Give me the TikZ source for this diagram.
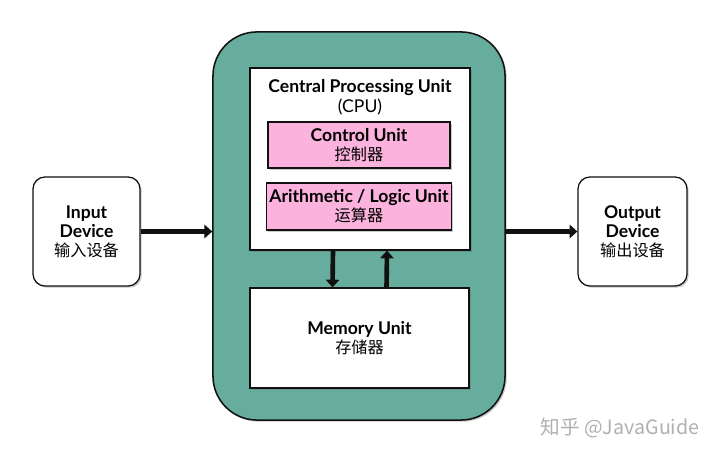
\documentclass[tikz,border=0pt]{standalone}
\usepackage{fontspec}
\setmainfont{Lato}
\newfontfamily\cjk{Noto Sans CJK SC}
\usepackage{xcolor}
\usetikzlibrary{arrows.meta,positioning,shadows}
\definecolor{ink}{HTML}{111111}
\definecolor{teal}{HTML}{67AD9D}
\definecolor{pinkfill}{HTML}{FBB2DC}
\definecolor{wmgray}{HTML}{B0B0B0}
\tikzset{
  shade/.style={drop shadow={shadow xshift=1.2pt, shadow yshift=-1.2pt, opacity=0.35, fill=black!60}},
  box/.style={draw=ink, thick, fill=white, align=center, inner sep=2pt, shade, font=\fontsize{12.5}{13.5}\selectfont\bfseries},
  shell/.style={draw=ink, line width=1.1pt, fill=teal, rounded corners=1.1cm, shade},
  devbox/.style={box, line width=0.9pt, rounded corners=0.3cm},
  pinkbox/.style={box, fill=pinkfill},
  arrow/.style={-{Triangle[length=5.5pt,width=9.5pt]}, line width=3.3pt, draw=ink}
}
\newcommand{\zhtext}[1]{{\cjk\fontsize{11.5}{13.5}\selectfont\mdseries #1}}

\begin{document}
\begin{tikzpicture}[x=0.025cm,y=-0.025cm]
\useasboundingbox (0,0) rectangle (720,457);
\node[shell, minimum width=7.3cm, minimum height=9.7cm] (shell) at (359,226) {};
\node[box, minimum width=5.5cm, minimum height=4.55cm] (cpu) at (360,159) {};
\node[font=\fontsize{12.5}{14}\selectfont\bfseries, align=center] (cputitle) at (360,97) {Central Processing Unit\\\mdseries(CPU)};
\node[pinkbox, minimum width=4.55cm, minimum height=1.15cm] (ctrl) at (359,145) {Control Unit\\\zhtext{控制器}};
\node[pinkbox, minimum width=4.55cm, minimum height=1.175cm] (alu) at (359,206.5) {Arithmetic / Logic Unit\\\zhtext{运算器}};
\node[box, minimum width=5.475cm, minimum height=2.5cm] (mem) at (359.5,338) {Memory Unit\\\zhtext{存储器}};
\node[devbox, minimum width=2.675cm, minimum height=2.725cm] (in) at (86.5,231.5) {Input\\Device\\\zhtext{输入设备}};
\node[devbox, minimum width=2.725cm, minimum height=2.725cm] (out) at (632.5,231.5) {Output\\Device\\\zhtext{输出设备}};
% connectors
\draw[arrow] (in.east) -- (in.east -| shell.west);
\draw[arrow] (out.west -| shell.east) -- (out.west);
\draw[arrow] ([xshift=-0.675cm]cpu.south) -- ([xshift=-0.675cm]mem.north);
\draw[arrow] ([xshift=0.675cm]mem.north) -- ([xshift=0.675cm]cpu.south);
% watermark
\node[text=wmgray, font=\cjk\fontsize{14}{16}\selectfont] (wm) at (620,428) {知乎 @JavaGuide};
\end{tikzpicture}
\end{document}
